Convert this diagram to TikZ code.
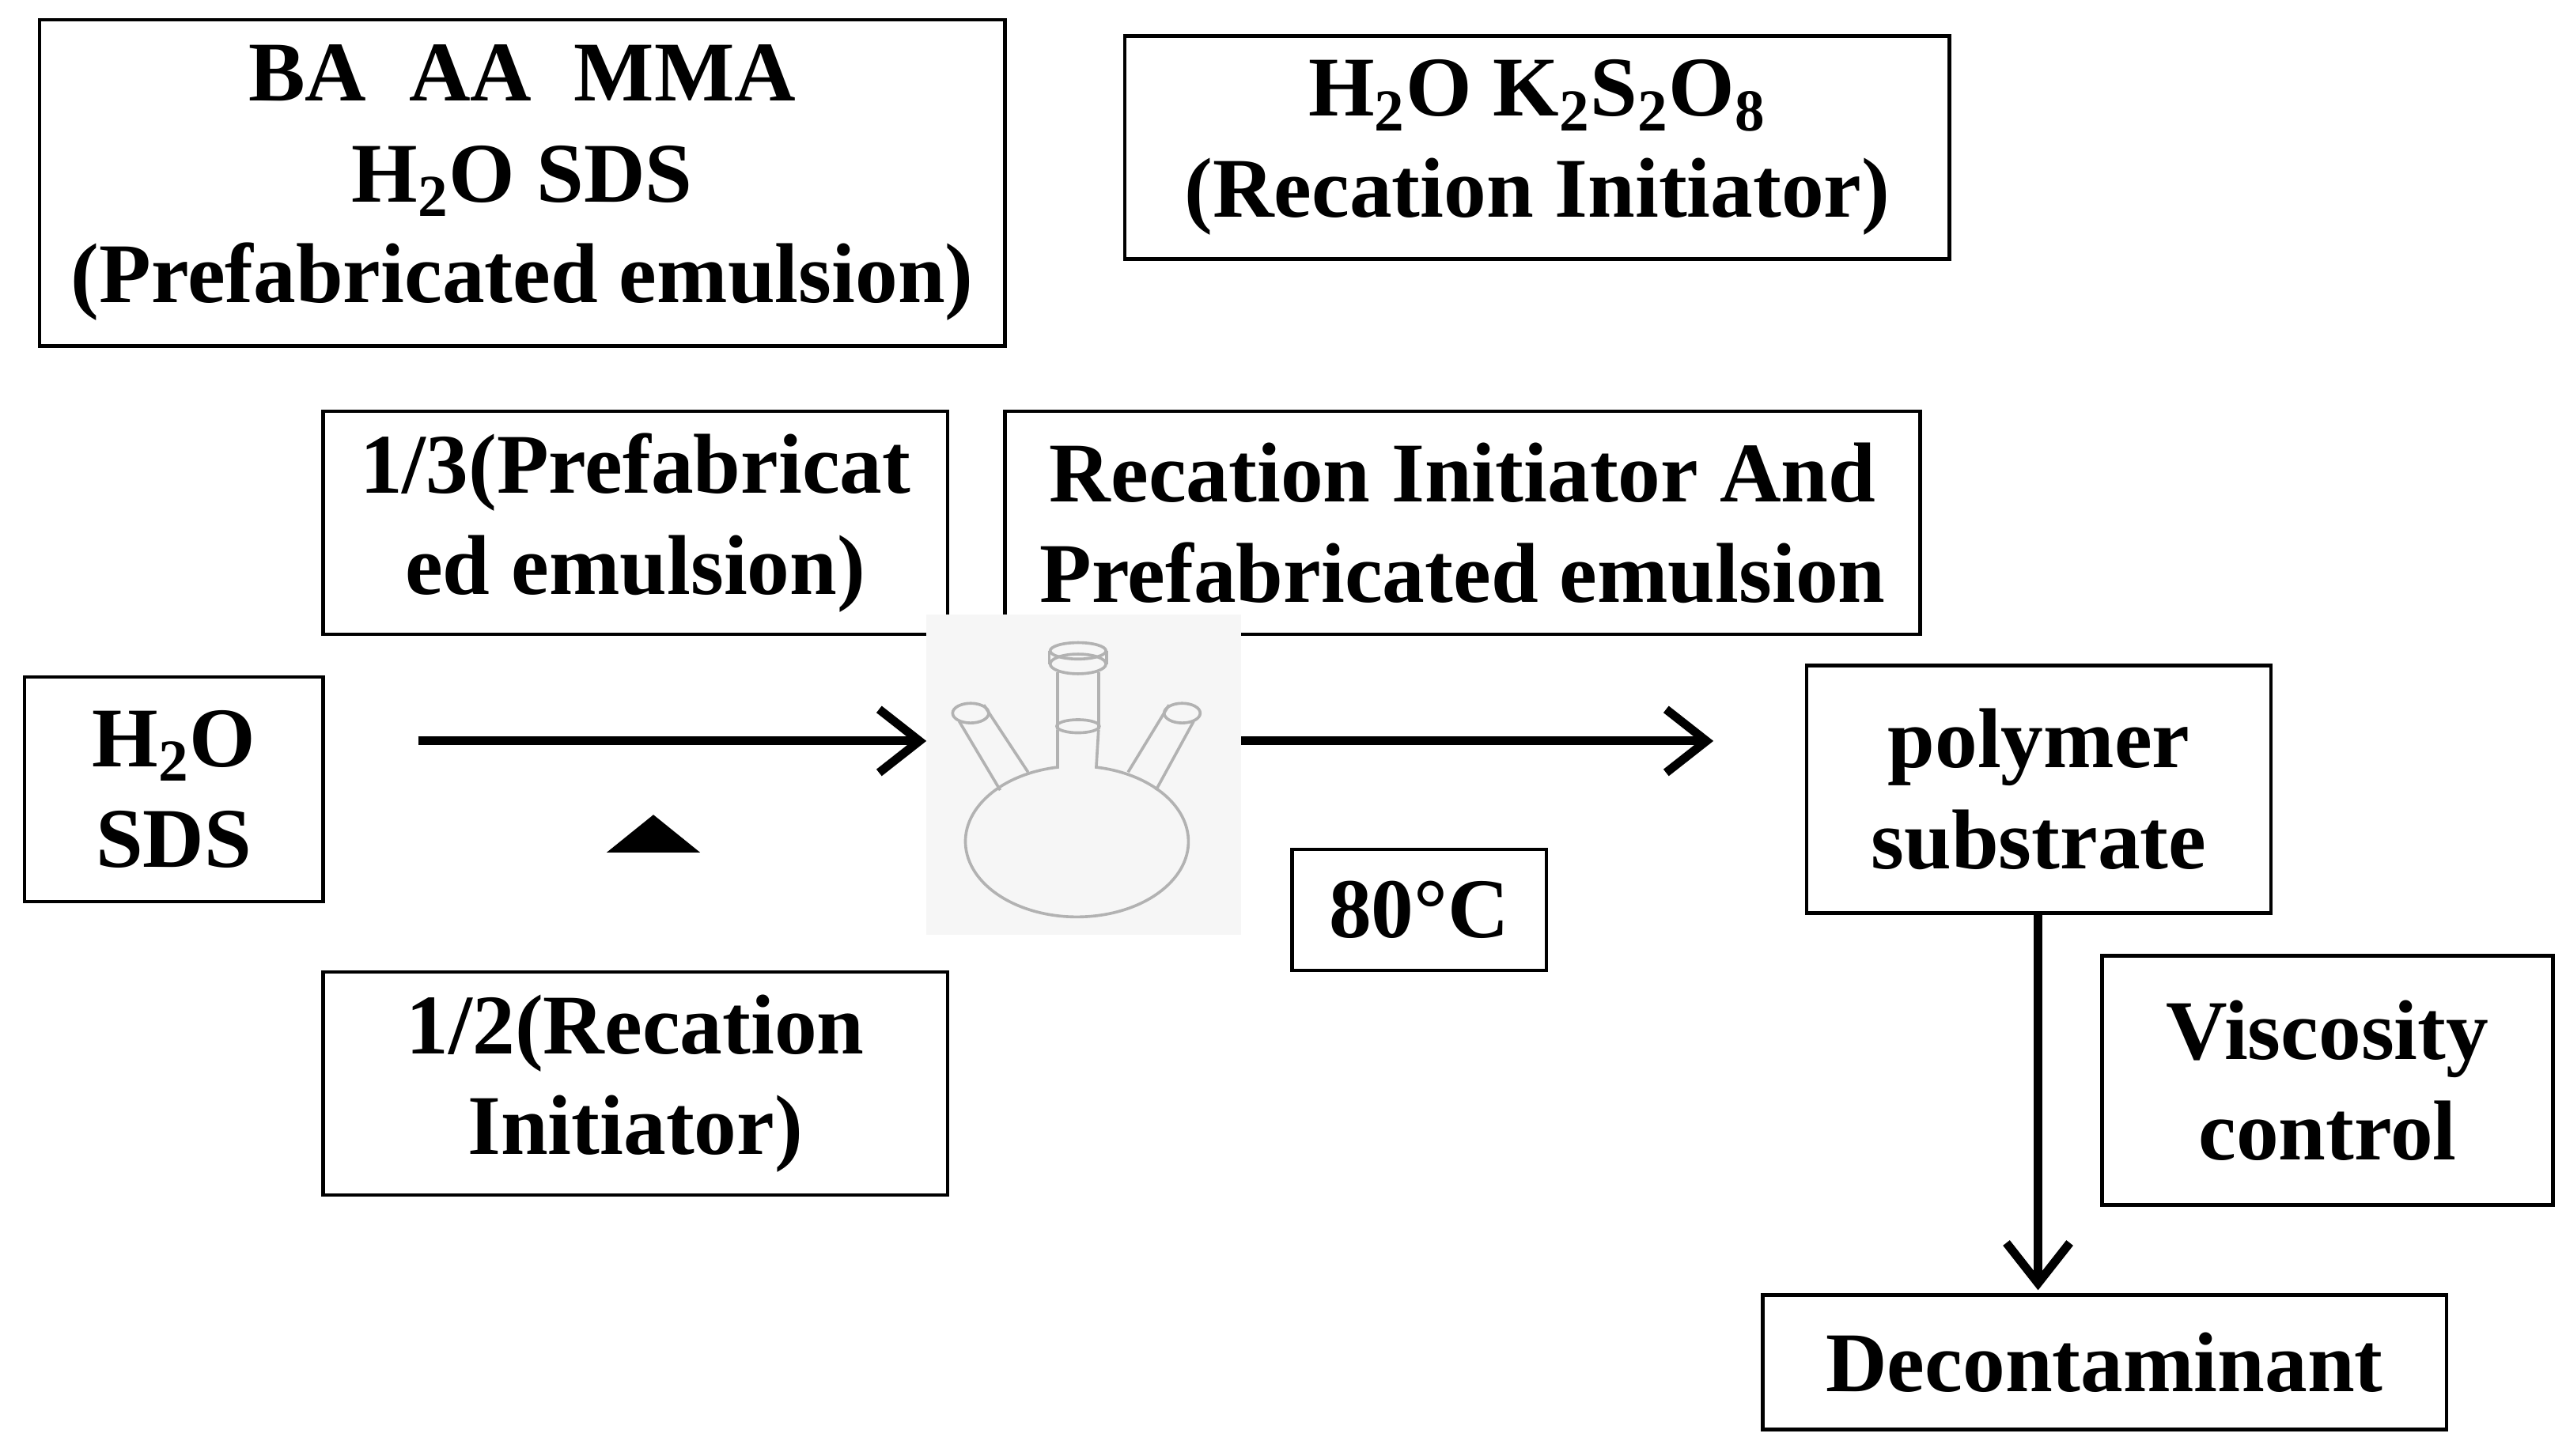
\documentclass[tikz,border=0pt]{standalone}
\usepackage{fontspec}
\setmainfont{Liberation Serif}
\usetikzlibrary{arrows.meta}
\begin{document}
\begin{tikzpicture}[x=0.02cm,y=-0.02cm,
  box/.style={draw,line width=1.2pt,align=center,inner sep=0pt,font=\fontsize{29.5}{35}\selectfont\bfseries},
  arr/.style={line width=3pt,-{Straight Barb[length=14pt,width=22pt,line width=3pt]}}]
\useasboundingbox (0,0) rectangle (1565,888);
\node[box,minimum width=589*0.02cm,minimum height=199*0.02cm] (pre) at (318.5,111.5) {BA\ \ AA\ \ MMA\\H\textsubscript{2}O SDS\\(Prefabricated emulsion)};
\node[box,minimum width=503*0.02cm,minimum height=136*0.02cm] (ini) at (937.5,90) {H\textsubscript{2}O K\textsubscript{2}S\textsubscript{2}O\textsubscript{8}\\(Recation Initiator)};
\node[box,minimum width=381*0.02cm,minimum height=136*0.02cm] (third) at (387.5,319) {1/3(Prefabricat\\ed emulsion)};
\node[box,minimum width=558*0.02cm,minimum height=136*0.02cm] (both) at (892,319) {Recation Initiator And\\Prefabricated emulsion};
\node[box,minimum width=182*0.02cm,minimum height=137*0.02cm] (water) at (106,481.5) {H\textsubscript{2}O\\SDS};
\node[box,minimum width=381*0.02cm,minimum height=136*0.02cm] (half) at (387.5,661) {1/2(Recation\\Initiator)};
\node[box,minimum width=155*0.02cm,minimum height=74*0.02cm] (temp) at (865.5,555) {80°C};
\node[box,minimum width=283*0.02cm,minimum height=151*0.02cm] (poly) at (1243.5,481.5) {polymer\\substrate};
\node[box,minimum width=275*0.02cm,minimum height=152*0.02cm] (visc) at (1419.5,659) {Viscosity\\control};
\node[box,minimum width=417*0.02cm,minimum height=82*0.02cm] (deco) at (1283.5,831) {Decontaminant};
% flask
\fill[gray!7] (565,375) rectangle (757,570);
\coordinate (fl) at (565,452);
\coordinate (fr) at (757,452);
\begin{scope}[draw=gray!60,line width=1pt]
\draw (645,445) -- (645,468) arc[start angle=-100,end angle=-440,x radius=68,y radius=46] -- (670,445);
\draw (645,445) -- (645,410) (670,410) -- (670,445);
\draw (657.5,405) ellipse (17 and 6);
\draw (640,397) -- (640,405) (675,397) -- (675,405); \draw (657.5,397) ellipse (17 and 5);
\draw (657.5,443) ellipse (13 and 4);
\draw (610,482) -- (585,440) (627,471) -- (600,430);
\draw (592,435) ellipse (11 and 6);
\draw (705,482) -- (728,440) (688,471) -- (713,430);
\draw (721,435) ellipse (11 and 6);
\end{scope}
\coordinate (a1s) at (255,452);
\coordinate (dtop) at (1243,787);
\draw[arr] (a1s) -- (fl);
\draw[arr] (fr) -- (1045,452);
\fill (370,520) -- (427,520) -- (398.5,497) -- cycle;
\draw[arr] (poly.south -| dtop) -- (dtop);
\end{tikzpicture}
\end{document}
